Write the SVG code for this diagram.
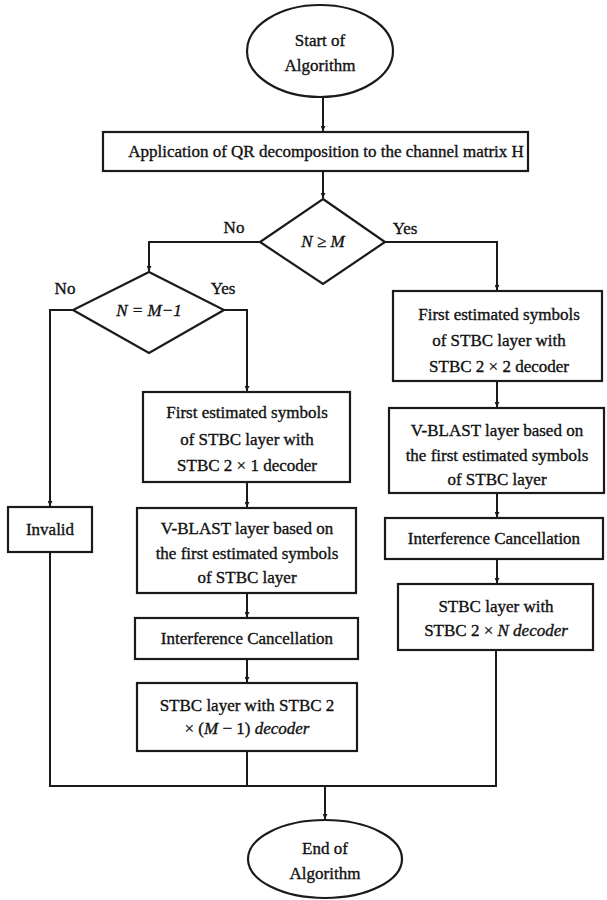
<svg xmlns="http://www.w3.org/2000/svg" width="607" height="900" viewBox="0 0 607 900">
<defs>
<style>
.s{fill:#fff;stroke:#1a1a1a;stroke-width:2.2}
.c{fill:none;stroke:#1a1a1a;stroke-width:2}
text{font-family:"Liberation Serif","Times New Roman",serif;font-size:17px;fill:#111;stroke:#111;stroke-width:0.35;text-anchor:middle;dominant-baseline:central}
.i{font-style:italic}
</style>
<marker id="a" viewBox="0 0 10 10" refX="10" refY="5" markerWidth="5" markerHeight="5" orient="auto" markerUnits="userSpaceOnUse">
<path d="M0,0 L10,5 L0,10 z" fill="#1a1a1a"/>
</marker>
</defs>
<rect width="607" height="900" fill="#fff"/>
<g id="connectors">
<path class="c" d="M323,98 V131" marker-end="url(#a)"/>
<path class="c" d="M323,171 V198" marker-end="url(#a)"/>
<path class="c" d="M260,242 H149 V271" marker-end="url(#a)"/>
<path class="c" d="M385,242 H497 V290" marker-end="url(#a)"/>
<path class="c" d="M73,310 H50 V506" marker-end="url(#a)"/>
<path class="c" d="M224,310 H247 V391" marker-end="url(#a)"/>
<path class="c" d="M247,482 V507" marker-end="url(#a)"/>
<path class="c" d="M247,593 V617" marker-end="url(#a)"/>
<path class="c" d="M247,659 V682" marker-end="url(#a)"/>
<path class="c" d="M497,381 V407" marker-end="url(#a)"/>
<path class="c" d="M497,493 V517" marker-end="url(#a)"/>
<path class="c" d="M497,559 V583" marker-end="url(#a)"/>
<path class="c" d="M50,552 V786 H496 V650"/>
<path class="c" d="M247,751 V786"/>
<path class="c" d="M325,786 V819" marker-end="url(#a)"/>
</g>
<g id="start">
<ellipse class="s" cx="320" cy="51" rx="73" ry="46"/>
<text x="320" y="40">Start of</text>
<text x="320" y="65">Algorithm</text>
</g>
<g id="qr">
<rect class="s" x="103" y="132" width="425" height="39"/>
<text x="326" y="151">Application of QR decomposition to the channel matrix H</text>
</g>
<g id="d1">
<polygon class="s" points="323,199 385,242 323,284 260,242"/>
<text x="323" y="241" class="i">N ≥ M</text>
<text x="234" y="227">No</text>
<text x="405" y="228">Yes</text>
</g>
<g id="d2">
<polygon class="s" points="149,272 224,310 149,353 73,310"/>
<text x="149" y="310" class="i">N = M−1</text>
<text x="65" y="288">No</text>
<text x="223" y="288">Yes</text>
</g>
<g id="invalid">
<rect class="s" x="8" y="507" width="84" height="45"/>
<text x="50" y="529">Invalid</text>
</g>
<g id="l1">
<rect class="s" x="143" y="392" width="207" height="90"/>
<text x="247" y="412">First estimated symbols</text>
<text x="247" y="439">of STBC layer with</text>
<text x="247" y="465">STBC 2 × 1 decoder</text>
</g>
<g id="l2">
<rect class="s" x="137" y="508" width="219" height="85"/>
<text x="247" y="528">V-BLAST layer based on</text>
<text x="247" y="553">the first estimated symbols</text>
<text x="247" y="577">of STBC layer</text>
</g>
<g id="l3">
<rect class="s" x="135" y="618" width="223" height="41"/>
<text x="247" y="638">Interference Cancellation</text>
</g>
<g id="l4">
<rect class="s" x="137" y="683" width="220" height="68"/>
<text x="247" y="705">STBC layer with STBC 2</text>
<text x="247" y="728">× (<tspan class="i">M</tspan> − 1) <tspan class="i">decoder</tspan></text>
</g>
<g id="r1">
<rect class="s" x="393" y="291" width="209" height="90"/>
<text x="499" y="314">First estimated symbols</text>
<text x="499" y="340">of STBC layer with</text>
<text x="499" y="366">STBC 2 × 2 decoder</text>
</g>
<g id="r2">
<rect class="s" x="389" y="408" width="215" height="85"/>
<text x="497" y="430">V-BLAST layer based on</text>
<text x="497" y="455">the first estimated symbols</text>
<text x="497" y="479">of STBC layer</text>
</g>
<g id="r3">
<rect class="s" x="385" y="518" width="218" height="41"/>
<text x="494" y="538">Interference Cancellation</text>
</g>
<g id="r4">
<rect class="s" x="398" y="584" width="195" height="66"/>
<text x="496" y="606">STBC layer with</text>
<text x="496" y="630">STBC 2 × <tspan class="i">N decoder</tspan></text>
</g>
<g id="end">
<ellipse class="s" cx="325" cy="859" rx="77" ry="39"/>
<text x="325" y="848">End of</text>
<text x="325" y="873">Algorithm</text>
</g>
</svg>
